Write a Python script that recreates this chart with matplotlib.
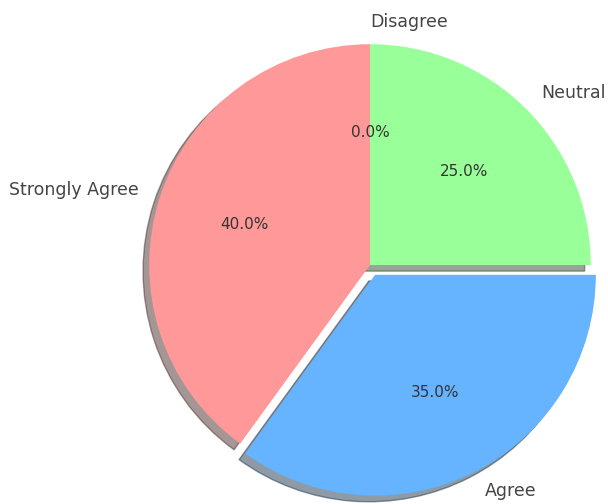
import matplotlib
matplotlib.use('Agg')
import matplotlib.pyplot as plt

labels = ['Strongly Agree', 'Agree', 'Neutral', 'Disagree']
sizes = [40, 35, 25, 0]
colors = ['#ff9999', '#66b3ff', '#99ff99', '#ffcc99']
explode = [0, 0.05, 0, 0]

fig = plt.figure(figsize=(6.08, 5.04), dpi=100)
# pie centre at about (370, 265) px, radius about 221 px
ax = fig.add_axes([94 / 608, -37 / 504, 552 / 608, 552 / 504])
wedges, texts, autotexts = ax.pie(sizes, labels=labels, colors=colors, explode=explode,
                                  autopct='%1.1f%%', startangle=90, shadow=True,
                                  textprops={'fontsize': 12.5, 'color': '#444444'})
for t in autotexts:
  t.set_fontsize(11)
  t.set_color('#333333')
texts[3].set_ha('left')
ax.set_xlim(-1.25, 1.25)
ax.set_ylim(-1.25, 1.25)
ax.set_aspect('equal')

fig.savefig('out.png', dpi=100)
